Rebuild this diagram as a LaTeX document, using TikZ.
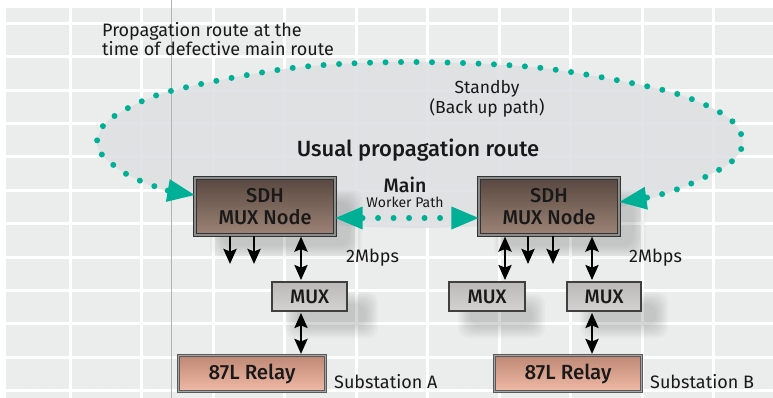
\documentclass[tikz,border=0pt]{standalone}
\usepackage{fontspec}
\setmainfont{Fira Sans}
\newfontfamily\medfont{Fira Sans Medium}
\usetikzlibrary{arrows.meta,calc}
\definecolor{teal1}{RGB}{0,176,150}
\definecolor{bggray}{RGB}{235,237,236}
\definecolor{ellgray}{RGB}{222,223,226}
\definecolor{sdhtop}{RGB}{88,72,65}
\definecolor{sdhbot}{RGB}{158,132,118}
\definecolor{muxtop}{RGB}{188,186,185}
\definecolor{muxbot}{RGB}{212,210,209}
\definecolor{reltop}{RGB}{190,136,118}
\definecolor{relbot}{RGB}{240,186,166}
\definecolor{txt}{RGB}{25,25,25}
\newcommand{\softshadow}[4]{%
  \foreach \k in {0,2,...,12}{\fill[black,opacity=0.022,rounded corners=10pt] ({#1+\k},{#2+\k}) rectangle ({#3-\k},{#4-\k});}}
\tikzset{
  sdhbox/.style={draw=black!80,double=black!45,double distance=1.2pt,line width=1.1pt,
    top color=sdhtop,bottom color=sdhbot,minimum width=140pt,minimum height=57pt,
    align=center,text=txt,font=\medfont\fontsize{20}{22}\selectfont,inner sep=0pt},
  muxbox/.style={draw=black!75,line width=1.8pt,top color=muxtop,bottom color=muxbot,
    minimum height=29pt,text=txt,font=\medfont\fontsize{19.5}{22}\selectfont,inner sep=0pt},
  relaybox/.style={draw=black!65,double=black!35,double distance=1.2pt,line width=1.1pt,
    top color=reltop,bottom color=relbot,minimum width=147pt,minimum height=36pt,
    text=txt,font=\medfont\fontsize{20.5}{22}\selectfont,inner sep=0pt},
  blkarrow/.style={line width=2.8pt,black,-{Stealth[length=15pt,width=13pt,inset=2.5pt]}},
  dblarrow/.style={line width=2.8pt,black,{Stealth[length=15pt,width=13pt,inset=2.5pt]}-{Stealth[length=15pt,width=13pt,inset=2.5pt]}},
  dotpath/.style={teal1,line width=6pt,line cap=round,dash pattern=on 0pt off 15.5pt},
  tealtips/.style={{Triangle[length=27pt,width=23pt,line width=0pt]}-{Triangle[length=27pt,width=23pt,line width=0pt]}},
  lbl/.style={text=txt,inner sep=0pt}
}
\begin{document}
\begin{tikzpicture}[x=1pt,y=-1pt]
\useasboundingbox (0,0) rectangle (773,398);
\fill[white] (0,0) rectangle (773,398);
\fill[bggray] (6,8) rectangle (773,398);
\foreach \x in {70,141.5,213,284.5,356,427.5,499,570.5,642,713.5}
  \draw[white,line width=3pt] (\x,8) -- (\x,398);
\foreach \y in {23.3,56.7,90.1,123.5,156.9,190.3,223.7,257.1,290.5,323.9,357.3,390.7}
  \draw[white,line width=3pt] (6,\y) -- (773,\y);
% gray area inside the standby loop
\fill[ellgray,opacity=0.85] plot[smooth cycle] coordinates {
  (128,175) (103,156) (97,141) (110,119) (167,92) (292,68) (410,62) (542,68)
  (667,91) (726,116) (743,141) (730,163) (688,185) (645,200) (560,220) (420,228) (280,220) (170,192)};
\draw[black!30,line width=0.9pt] (171,0) -- (171,398);
% shadows
\softshadow{210}{190}{362}{258}
\softshadow{494}{190}{646}{258}
\softshadow{285}{292}{378}{338}
\softshadow{458}{294}{545}{338}
\softshadow{580}{292}{668}{338}
% nodes
\node[sdhbox] (sdhA) at (265,206.5) {SDH\\MUX Node};
\node[sdhbox] (sdhB) at (549,206.5) {SDH\\MUX Node};
\node[muxbox,minimum width=75pt] (muxA) at (309.5,296.5) {MUX};
\node[muxbox,minimum width=76pt] (muxB1) at (487,296.5) {MUX};
\node[muxbox,minimum width=74pt] (muxB2) at (604,296.5) {MUX};
\node[relaybox] (relA) at (252,373.5) {87L Relay};
\node[relaybox] (relB) at (568,373.5) {87L Relay};
% texts
\node[lbl,anchor=west,align=left,font=\fontsize{18}{16}\selectfont] (prop) at (102,39.5) {Propagation route at the\\time of defective main route};
\node[lbl,align=center,font=\fontsize{17.5}{16}\selectfont] (stby) at (487,99) {Standby\\(Back up path)};
\node[lbl,font=\medfont\fontsize{22}{24}\selectfont] (usual) at (418,150) {Usual propagation route};
\node[lbl,font=\medfont\fontsize{19.5}{22}\selectfont] (main) at (405,185) {Main};
\node[lbl,font=\fontsize{14}{16}\selectfont] (worker) at (405,202) {Worker Path};
\node[lbl,anchor=west,font=\fontsize{18}{20}\selectfont] (mbA) at (346,258) {2Mbps};
\node[lbl,anchor=west,font=\fontsize{18}{20}\selectfont] (mbB) at (629,258) {2Mbps};
\node[lbl,anchor=west,font=\fontsize{18}{20}\selectfont] (subA) at (334,382) {Substation A};
\node[lbl,anchor=west,font=\fontsize{18}{20}\selectfont] (subB) at (650,382) {Substation B};
% standby loop
\draw[dotpath,tealtips] plot[smooth] coordinates {
  ($(sdhA.west)+(0,-11.5)$) (160,188) (128,175) (103,156) (97,141) (110,119) (167,92) (292,68) (410,62) (542,68)
  (667,91) (726,116) (743,141) (730,163) (688,185) (655,196) ($(sdhB.east)+(0,-4.5)$)};
% main worker path
\draw[dotpath,tealtips] ($(sdhA.east)+(0,11.5)$) -- ($(sdhB.west)+(0,11.5)$);
% black arrows
\coordinate (dA1) at (230,264);
\coordinate (dA2) at (254,264);
\coordinate (dB1) at (528,264);
\coordinate (dB2) at (553,264);
\draw[blkarrow] (sdhA.south -| dA1) -- (dA1);
\draw[blkarrow] (sdhA.south -| dA2) -- (dA2);
\draw[blkarrow] (sdhB.south -| dB1) -- (dB1);
\draw[blkarrow] (sdhB.south -| dB2) -- (dB2);
\draw[dblarrow] ($(sdhA.south -| muxA.north)+(-8.5,1)$) -- ($(muxA.north)+(-8.5,-1)$);
\draw[dblarrow] ($(muxA.south)+(-8.5,1)$) -- ($(relA.north -| muxA.south)+(-8.5,-1)$);
\draw[dblarrow] ($(sdhB.south -| muxB1.north)+(18,1)$) -- ($(muxB1.north)+(18,-1)$);
\draw[dblarrow] ($(sdhB.south -| muxB2.north)+(-12,1)$) -- ($(muxB2.north)+(-12,-1)$);
\draw[dblarrow] ($(muxB2.south)+(-12,1)$) -- ($(relB.north -| muxB2.south)+(-12,-1)$);
\end{tikzpicture}
\end{document}
